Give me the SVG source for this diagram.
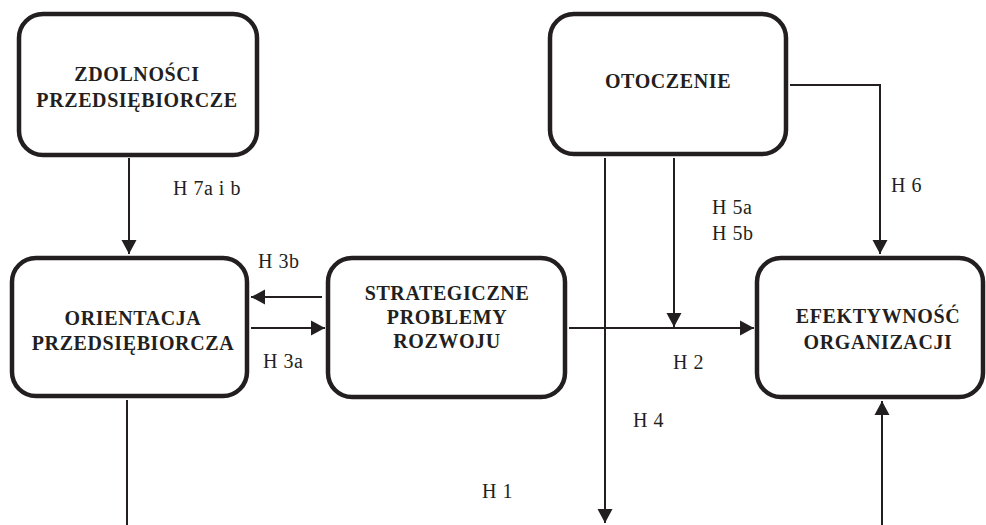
<svg xmlns="http://www.w3.org/2000/svg" width="986" height="525" viewBox="0 0 986 525">
<defs>
<style>
.box{fill:#fff;stroke:#231f20;stroke-width:4.5}
.t{font-family:"Liberation Serif","Times New Roman",serif;font-weight:bold;font-size:20px;letter-spacing:0.6px;fill:#231f20;text-anchor:middle}
.lbl{font-family:"Liberation Serif","Times New Roman",serif;font-size:20px;letter-spacing:0.5px;fill:#231f20}
.c{fill:none;stroke:#231f20;stroke-width:2}
.a{marker-end:url(#arr)}
</style>
<marker id="arr" markerUnits="userSpaceOnUse" markerWidth="16" markerHeight="16" refX="14" refY="8" orient="auto">
<path d="M0,0.5 L14,8 L0,15.5 z" fill="#231f20"/>
</marker>
</defs>
<rect width="986" height="525" fill="#fff"/>
<g id="connectors">
<path class="c a" d="M129,158 V254"/>
<path class="c" d="M790,85 H880"/>
<path class="c a" d="M880,84 V254"/>
<path class="c a" d="M605,158 V523"/>
<path class="c a" d="M674,158 V327"/>
<path class="c a" d="M569,328 H754"/>
<path class="c a" d="M322,297 H251"/>
<path class="c a" d="M251,328 H325"/>
<path class="c" d="M127,400 V525"/>
<path class="c a" d="M882,525 V401"/>
</g>
<g id="labels">
<text class="lbl" x="173" y="195">H 7a i b</text>
<text class="lbl" x="891" y="192">H 6</text>
<text class="lbl" x="712" y="214">H 5a</text>
<text class="lbl" x="712" y="240">H 5b</text>
<text class="lbl" x="258" y="268">H 3b</text>
<text class="lbl" x="263" y="368">H 3a</text>
<text class="lbl" x="673" y="369">H 2</text>
<text class="lbl" x="633" y="427">H 4</text>
<text class="lbl" x="482" y="498">H 1</text>
</g>
<g id="zdolnosci">
<rect class="box" x="19" y="14" width="238" height="141" rx="24"/>
<text class="t" x="137" y="81">ZDOLNOŚCI</text>
<text class="t" x="137" y="107">PRZEDSIĘBIORCZE</text>
</g>
<g id="otoczenie">
<rect class="box" x="550" y="14" width="236" height="140" rx="24"/>
<text class="t" x="668" y="88">OTOCZENIE</text>
</g>
<g id="orientacja">
<rect class="box" x="12" y="258" width="235" height="138" rx="24"/>
<text class="t" x="133" y="325">ORIENTACJA</text>
<text class="t" x="133" y="350">PRZEDSIĘBIORCZA</text>
</g>
<g id="strategiczne">
<rect class="box" x="328" y="258" width="237" height="139" rx="24"/>
<text class="t" x="447" y="300">STRATEGICZNE</text>
<text class="t" x="447" y="324">PROBLEMY</text>
<text class="t" x="447" y="348">ROZWOJU</text>
</g>
<g id="efektywnosc">
<rect class="box" x="757" y="258" width="226" height="139" rx="24"/>
<text class="t" x="878" y="323">EFEKTYWNOŚĆ</text>
<text class="t" x="878" y="349">ORGANIZACJI</text>
</g>
</svg>
